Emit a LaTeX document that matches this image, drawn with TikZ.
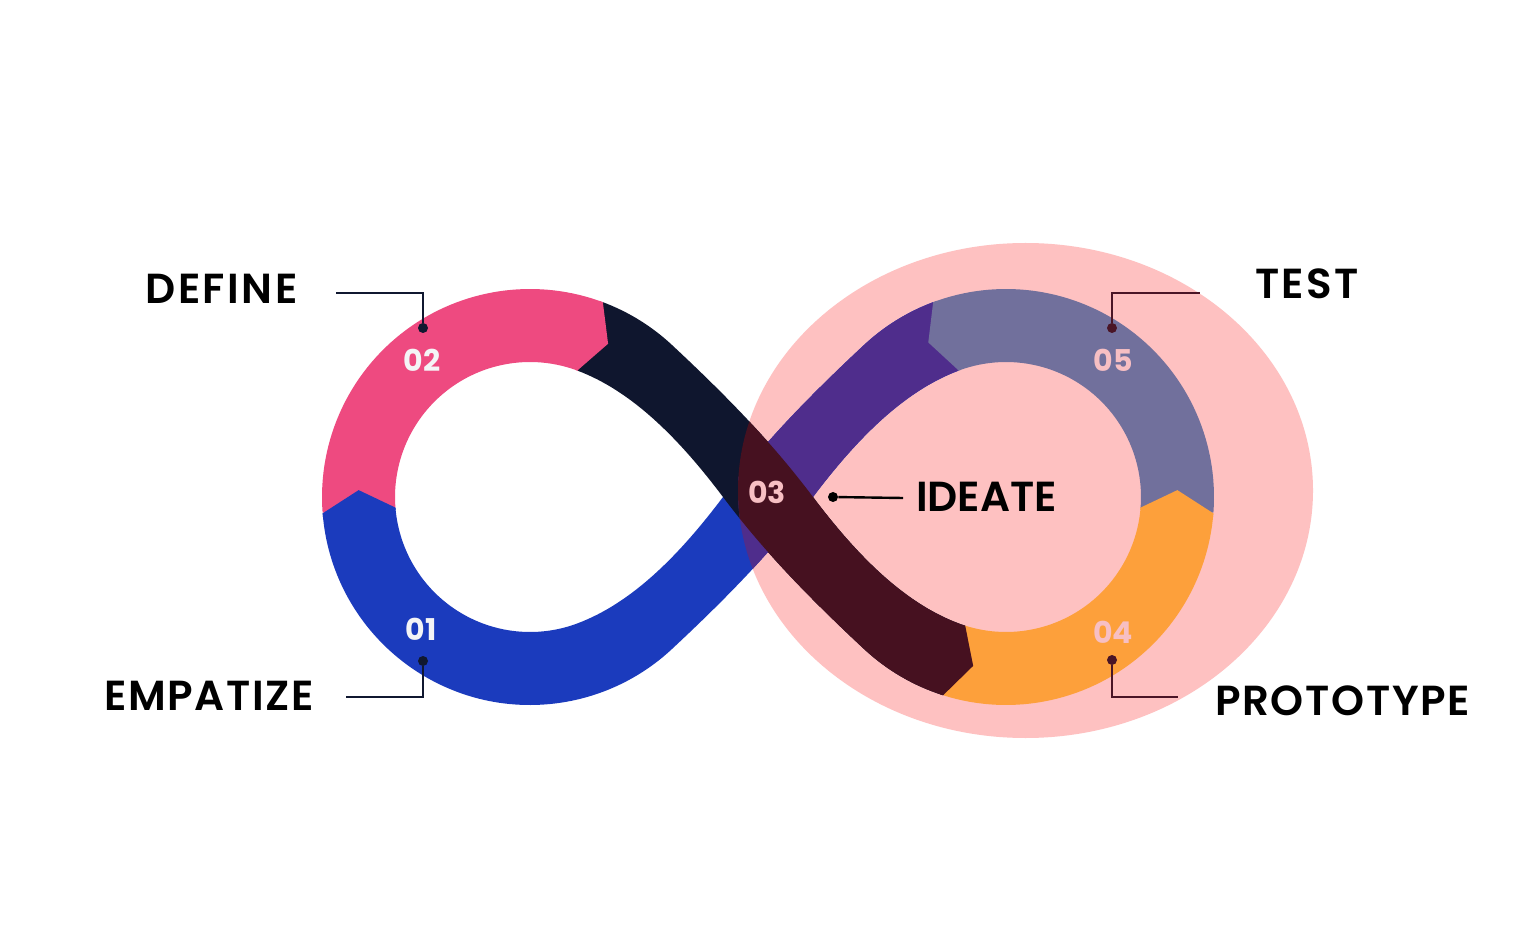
\documentclass[tikz,border=0pt]{standalone}
\usepackage{fontspec}
\setmainfont{Poppins}
\newfontfamily\phasefont{Poppins SemiBold}[LetterSpace=6]
\usetikzlibrary{calc}
\definecolor{pinkband}{HTML}{EE4A80}
\definecolor{blueband}{HTML}{1B3BBD}
\definecolor{navyband}{HTML}{0F162E}
\definecolor{maroonband}{HTML}{461120}
\definecolor{purpleband}{HTML}{4F2D8C}
\definecolor{greyband}{HTML}{71709C}
\definecolor{orangeband}{HTML}{FDA03B}
\definecolor{blush}{HTML}{FEC1C1}
\definecolor{numpink}{HTML}{F7BFC3}
\definecolor{numwhite}{HTML}{F4F4F6}
\definecolor{leadnavy}{HTML}{101830}
\definecolor{leadmaroon}{HTML}{4A1526}

\begin{document}
\begin{tikzpicture}[x=0.5pt,y=0.5pt,
  band/.style={line width=36.5pt},
  phase/.style={font=\phasefont\fontsize{21}{25}\selectfont, text=black, inner sep=0pt},
  num/.style={font=\fontsize{15}{18}\selectfont\bfseries, inner sep=0pt},
  dot/.style={circle, inner sep=0pt, minimum size=5pt},
  lead/.style={line width=1.2pt}]
  \fill[white] (0,0) rectangle (1536,928);
  \useasboundingbox (0,0) rectangle (1536,928);

  \coordinate (L) at (530,431);
  \coordinate (R) at (1006,431);
  \coordinate (E) at (1025.5,437.5);

  \fill[blush] (E) ellipse[x radius=287.5, y radius=247.5];

  \tikzset{
    blueway/.style={insert path={([shift={(110.5:208)}]R) arc[start angle=110.5, end angle=133, radius=208]
      .. controls (794.6,518.3) and (756.1,474.9) .. (723,431)
      .. controls (680.9,375.1) and (633.5,325.6) .. (577.3,304.55)
      arc[start angle=290.5, end angle=184.5, radius=135] -- ([shift={(184.5:208)}]L)
      arc[start angle=184.5, end angle=313, radius=208]
      .. controls (741.4,343.7) and (779.9,387.1) .. (813,431)
      .. controls (855.1,486.9) and (902.5,536.4) .. (958.7,557.45) -- cycle}},
    navyway/.style={insert path={([shift={(69.5:208)}]L) arc[start angle=69.5, end angle=47, radius=208]
      .. controls (741.4,518.3) and (779.9,474.9) .. (813,431)
      .. controls (855.1,375.1) and (902.5,325.6) .. (958.7,304.55)
      arc[start angle=249.5, end angle=252.4, radius=135] -- ([shift={(252.4:208)}]R)
      arc[start angle=252.4, end angle=227, radius=208]
      .. controls (794.6,343.7) and (756.1,387.1) .. (723,431)
      .. controls (680.9,486.9) and (633.5,536.4) .. (577.3,557.45) -- cycle}}}

  \fill[blueband, blueway];
  \fill[navyband, navyway];
  \begin{scope}
    \clip (E) ellipse[x radius=287.5, y radius=247.5];
    \fill[purpleband, blueway];
    \fill[maroonband, navyway];
  \end{scope}
  \draw[band, pinkband] ([shift={(184.5:171.5)}]L) arc[start angle=184.5, end angle=69.5, radius=171.5];
  \draw[band, orangeband] ([shift={(252.4:171.5)}]R) arc[start angle=252.4, end angle=355.5, radius=171.5];
  \draw[band, greyband] ([shift={(355.5:171.5)}]R) arc[start angle=355.5, end angle=470.5, radius=171.5];

  \fill[blueband] ([shift={(185.5:208)}]L) -- ([shift={(184.5:208)}]L) -- ([shift={(177.7:171.5)}]L)
    -- ([shift={(184.5:135)}]L) -- ([shift={(185.5:135)}]L) -- cycle;
  \fill[pinkband] ([shift={(70.5:208)}]L) -- ([shift={(69.5:208)}]L) -- ([shift={(63:172)}]L)
    -- ([shift={(69.5:135)}]L) -- ([shift={(70.5:135)}]L) -- cycle;
  \fill[maroonband] ([shift={(251.4:208)}]R) -- ([shift={(252.4:208)}]R) -- ([shift={(259:172)}]R)
    -- ([shift={(252.4:135)}]R) -- ([shift={(251.4:135)}]R) -- cycle;
  \fill[orangeband] ([shift={(354.5:208)}]R) -- ([shift={(355.5:208)}]R) -- ([shift={(362.3:171.5)}]R)
    -- ([shift={(355.5:135)}]R) -- ([shift={(354.5:135)}]R) -- cycle;
  \fill[greyband] ([shift={(109.5:208)}]R) -- ([shift={(110.5:208)}]R) -- ([shift={(116.7:173)}]R)
    -- ([shift={(110.5:135)}]R) -- ([shift={(109.5:135)}]R) -- cycle;

  \node[num, text=numwhite] (n01) at (421,299) {01};
  \node[num, text=numwhite] (n02) at (422,568) {02};
  \node[num, text=numpink] (n03) at (767,436) {03};
  \node[num, text=numpink] (n04) at (1113,296) {04};
  \node[num, text=numpink] (n05) at (1113,568) {05};

  \node[phase] (define) at (221.5,639) {DEFINE};
  \node[phase] (empatize) at (209,232) {\addfontfeature{LetterSpace=4}EMPATIZE};
  \node[phase] (ideate) at (986.5,431.5) {\addfontfeature{LetterSpace=0}IDEATE};
  \node[phase] (prototype) at (1342.5,227) {\addfontfeature{LetterSpace=4}PROTOTYPE};
  \node[phase] (test) at (1307,644.5) {TEST};

  \node[dot, fill=leadnavy] (d01) at (423,267) {};
  \node[dot, fill=leadnavy] (d02) at (423,600) {};
  \node[dot, fill=black] (d03) at (833,431) {};
  \node[dot, fill=leadmaroon] (d04) at (1112,268) {};
  \node[dot, fill=leadmaroon] (d05) at (1112,600) {};
  \coordinate (e01) at (346,231);
  \coordinate (e02) at (336,635);
  \coordinate (e03) at (903,430);
  \coordinate (e04) at (1178,231);
  \coordinate (e05) at (1200,635);
  \draw[lead, leadnavy] (d01) |- (e01);
  \draw[lead, leadnavy] (d02) |- (e02);
  \draw[lead, black] (d03) -- (e03);
  \draw[lead, leadmaroon] (d04) |- (e04);
  \draw[lead, leadmaroon] (d05) |- (e05);
\end{tikzpicture}
\end{document}
